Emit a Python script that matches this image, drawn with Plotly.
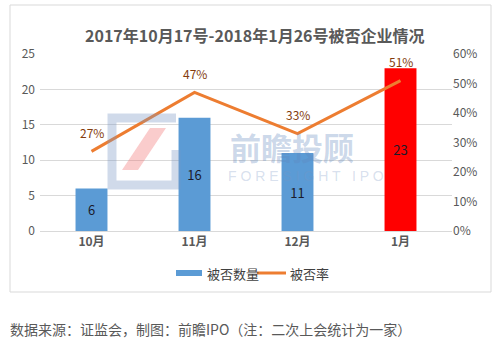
import plotly.graph_objects as go

# Monthly rejected IPO counts and rejection rate
months = ["10月", "11月", "12月", "1月"]
rejected = [6, 16, 11, 23]
reject_rate = [0.27, 0.47, 0.33, 0.51]
bar_colors = ["#5B9BD5", "#5B9BD5", "#5B9BD5", "#FF0000"]

title_text = "2017年10月17号-2018年1月26号被否企业情况"
source_text = "数据来源：证监会，制图：前瞻IPO（注：二次上会统计为一家）"
series_names = ["被否数量", "被否率"]

W, H = 501, 342
ML, MR, MT, MB = 40, 49, 54, 111
PW, PH = W - ML - MR, H - MT - MB
FONT = "Noto Sans CJK SC"
GREY = "#595959"


def px(x):
    return (x - ML) / PW


def py(y):
    return (H - MB - y) / PH


fig = go.Figure()

fig.add_trace(go.Bar(
    x=months, y=rejected, name=series_names[0],
    marker=dict(color=bar_colors, line=dict(width=0)),
    width=0.31,
    text=[str(v) for v in rejected], textposition="inside",
    insidetextanchor="middle",
    textfont=dict(family=FONT, size=13, color="#1b1b2b"),
    showlegend=False,
))

fig.add_trace(go.Scatter(
    x=months, y=reject_rate, name=series_names[1], yaxis="y2",
    mode="lines", line=dict(color="#ED7D31", width=3),
    showlegend=False,
))

# percentage labels above the line points
for m, r in zip(months, reject_rate):
    fig.add_annotation(
        x=m, y=r, yref="y2", text=f"{round(r * 100)}%", showarrow=False,
        yshift=19, xanchor="center", yanchor="middle",
        font=dict(family=FONT, size=12, color="#843C0C"),
    )

shapes = []
# outer chart frame
shapes.append(dict(type="rect", xref="paper", yref="paper",
                   x0=px(10), x1=px(491), y0=py(292), y1=py(5),
                   line=dict(color="#D9D9D9", width=1), layer="below"))

# faint watermark logo
shapes.append(dict(type="path", xref="paper", yref="paper",
                   path=(f"M {px(176)},{py(118)} L {px(112)},{py(118)} L {px(112)},{py(185)} "
                         f"L {px(176)},{py(185)} L {px(176)},{py(150)}"),
                   line=dict(color="rgba(120,150,195,0.35)", width=9), layer="above"))
shapes.append(dict(type="path", xref="paper", yref="paper",
                   path=(f"M {px(122)},{py(170)} L {px(138)},{py(170)} L {px(166)},{py(128)} "
                         f"L {px(150)},{py(128)} Z"),
                   fillcolor="rgba(240,110,110,0.35)", line=dict(width=0), layer="above"))

# legend
shapes.append(dict(type="rect", xref="paper", yref="paper",
                   x0=px(176), x1=px(202), y0=py(276), y1=py(270),
                   fillcolor="#5B9BD5", line=dict(width=0)))
shapes.append(dict(type="line", xref="paper", yref="paper",
                   x0=px(257), x1=px(286), y0=py(273), y1=py(273),
                   line=dict(color="#ED7D31", width=3)))

annotations = [
    dict(text=f"<b>{title_text}</b>", x=px(255), y=py(35), xanchor="center",
         font=dict(family=FONT, size=16, color=GREY)),
    dict(text=series_names[0], x=px(205), y=py(273), xanchor="left",
         font=dict(family=FONT, size=13, color="#404040")),
    dict(text=series_names[1], x=px(288), y=py(273), xanchor="left",
         font=dict(family=FONT, size=13, color="#404040")),
    dict(text=source_text, x=px(8), y=py(329), xanchor="left",
         font=dict(family=FONT, size=14, color=GREY)),
    dict(text="<b>前瞻投顾</b>", x=px(292), y=py(146), xanchor="center",
         font=dict(family=FONT, size=31, color="rgba(95,135,190,0.33)")),
    dict(text="F O R E S I G H T   I P O", x=px(306), y=py(176), xanchor="center",
         font=dict(family="Liberation Sans", size=14, color="rgba(120,150,195,0.3)")),
]
for a in annotations:
    fig.add_annotation(xref="paper", yref="paper", yanchor="middle",
                       showarrow=False, **a)

fig.update_layout(
    width=W, height=H,
    margin=dict(l=ML, r=MR, t=MT, b=MB),
    paper_bgcolor="white", plot_bgcolor="white",
    font=dict(family=FONT, size=12, color=GREY),
    shapes=shapes,
    xaxis=dict(
        tickmode="array", tickvals=months,
        ticktext=[f"<b>{m}</b>" for m in months],
        showline=True, linecolor="#D9D9D9", ticks="",
        tickfont=dict(family=FONT, size=12, color=GREY),
        showgrid=False, fixedrange=True,
    ),
    yaxis=dict(
        range=[0, 25], dtick=5, showgrid=True, gridcolor="#D9D9D9",
        zeroline=False, ticks="", ticklabelstandoff=4,
        tickfont=dict(family=FONT, size=12, color=GREY),
    ),
    yaxis2=dict(
        range=[0, 0.6], dtick=0.1, tickformat=".0%", overlaying="y",
        side="right", showgrid=False, zeroline=False, ticks="",
        tickfont=dict(family=FONT, size=12, color=GREY),
    ),
    showlegend=False,
)

fig.write_html("out.html")
